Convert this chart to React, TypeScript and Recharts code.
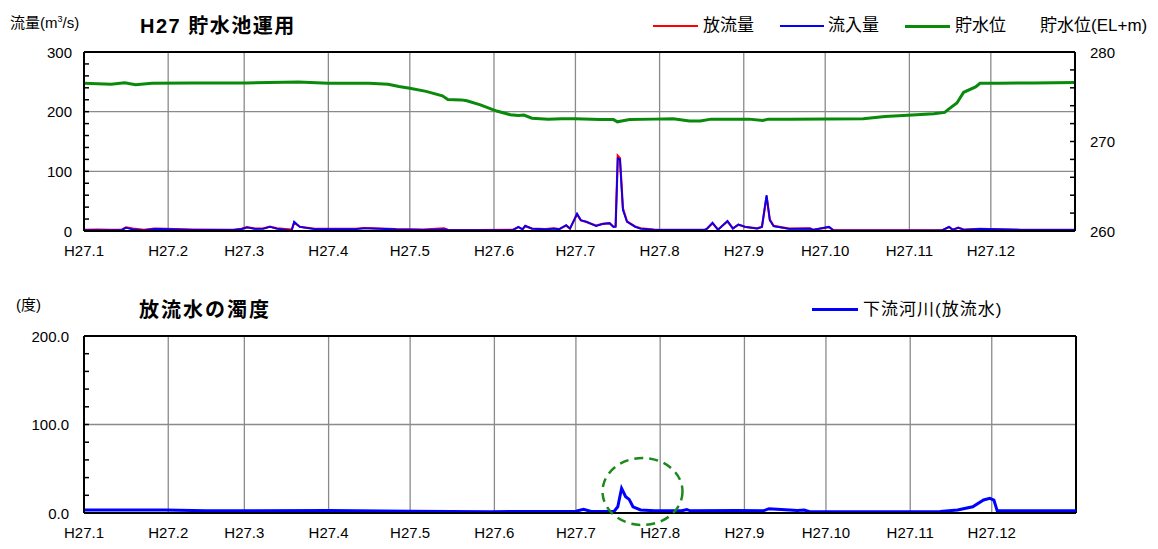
import { LineChart, Line, XAxis, YAxis, CartesianGrid, ReferenceLine, ReferenceDot } from 'recharts';

const FONT = '"Liberation Sans", "Noto Sans CJK JP", sans-serif';

// x axis: day of year (H27 = 2015), month starts
const monthStarts = [0, 31, 59, 90, 120, 151, 181, 212, 243, 273, 304, 334];
const monthLabels = ['H27.1', 'H27.2', 'H27.3', 'H27.4', 'H27.5', 'H27.6', 'H27.7', 'H27.8', 'H27.9', 'H27.10', 'H27.11', 'H27.12'];

// 流量 (m3/s)
const flowDays = [0, 5, 10, 14, 15.5, 18, 22, 26, 30, 40, 55, 58, 60, 63, 66, 68.5, 71, 76.5, 77.4, 79.5, 85, 100, 103, 106, 115, 125, 132.6, 134, 145, 158, 160, 161.5, 162.5, 165, 170, 173, 175, 177.6, 179, 181.6, 183, 185, 188.6, 191, 193.6, 195, 195.8, 196.6, 197.4, 198.5, 200, 203, 205, 210, 225, 228.7, 229.5, 231.5, 233.5, 237, 239, 241, 243.5, 248, 249.7, 251.4, 252.6, 254, 259.7, 267.4, 268.5, 274.4, 276, 300, 316, 318.6, 320, 322, 324, 330, 345, 365];
const inflow = [1.5, 1.5, 1.5, 2, 5.6, 2.5, 1, 3.5, 3, 2, 2, 3, 6, 3.5, 4, 7, 4, 0.5, 15.6, 7, 3, 3, 4.5, 4.5, 2.5, 2, 2.5, 2, 1.5, 1.5, 7, 2.5, 8.9, 4, 2.5, 4, 3, 10, 4, 29, 18, 15.6, 8.4, 12, 13, 7, 7, 122, 120, 35, 15.6, 7, 4, 2, 2, 2, 4, 14, 2, 17, 4, 11, 7, 4, 7, 60, 18, 8, 3.5, 4, 2, 7, 1, 1, 1, 7, 2, 5.6, 2, 3.5, 2, 2];
const outflow = [2, 2.5, 2, 2.5, 6, 4, 2, 4, 3.5, 2.5, 2, 3.5, 6.5, 4, 4, 7.5, 4.5, 2.5, 14, 7, 3.5, 3.5, 5, 4.5, 3, 2.5, 4.5, 2, 1.5, 2, 6.5, 3, 8, 4, 3, 4.5, 3, 9, 4, 28, 18, 15, 9, 12, 13, 7, 8, 126, 122, 38, 16, 7.5, 4.5, 2.5, 2, 2, 4, 13, 2.5, 16, 4.5, 10.5, 7, 4.5, 7, 58, 19, 8.5, 4, 4.5, 2, 6.5, 1.5, 1, 1, 6.5, 2, 5.5, 2.5, 3.5, 2, 2];

// 貯水位 (EL+m)
const levelDays = [0, 10, 15, 19, 25, 40, 60, 79, 90, 100, 105, 112, 116, 120, 126, 132, 134, 139, 141, 146, 152, 157, 160, 162, 165, 171, 176, 181, 190, 195, 196.5, 198, 201, 210, 217, 223, 227, 231, 245, 250, 252, 260, 287, 295, 305, 313, 317, 318.6, 321.5, 324, 328.4, 330, 337, 350, 365];
const level = [276.5, 276.4, 276.55, 276.35, 276.5, 276.55, 276.55, 276.65, 276.5, 276.5, 276.5, 276.4, 276.15, 275.95, 275.6, 275.1, 274.7, 274.65, 274.55, 274.1, 273.4, 273.0, 272.9, 272.95, 272.6, 272.5, 272.55, 272.55, 272.45, 272.45, 272.2, 272.3, 272.45, 272.5, 272.55, 272.3, 272.3, 272.5, 272.5, 272.35, 272.5, 272.5, 272.55, 272.8, 272.95, 273.1, 273.25, 273.65, 274.3, 275.5, 276.1, 276.5, 276.5, 276.55, 276.6];

// 濁度 (度)
const turbDays = [0, 30, 45, 60, 90, 120, 150, 175, 181, 183.8, 186.6, 195, 196.4, 197.8, 199.3, 200.6, 202, 204.8, 210, 220, 221.8, 223, 240, 250, 252, 255, 259.7, 262.4, 265, 267, 290, 315, 321.4, 327, 331, 333.3, 334.8, 336, 345, 365];
const turbidity = [3.4, 3.4, 2.5, 2.5, 2.8, 2, 1.5, 1.8, 2, 4.2, 1.8, 1.8, 7, 27.9, 18.4, 15.4, 7, 3.4, 2.5, 2.5, 4, 2.5, 2.8, 2.5, 4.9, 4.2, 3.4, 2.8, 3.4, 1.5, 1.5, 1.8, 3.4, 7, 14.7, 16.6, 14.7, 2.5, 2.5, 2.5];

const flowTicks = [0, 20, 40, 60, 80, 100, 120, 140, 160, 180, 200, 220, 240, 260, 280, 300];
const levelTicks = [260, 262, 264, 266, 268, 270, 272, 274, 276, 278, 280];
const turbTicks = [0, 20, 40, 60, 80, 100, 120, 140, 160, 180, 200];

const flowData = flowDays.map((d, i) => ({ day: d, out: outflow[i], in: inflow[i] }));
const levelData = levelDays.map((d, i) => ({ day: d, level: level[i] }));
const turbData = turbDays.map((d, i) => ({ day: d, turb: turbidity[i] }));

const GRID = '#8a8a8a';

function XTick(props: any) {
  const { x, y, payload } = props;
  const i = monthStarts.indexOf(payload.value);
  return (
    <text x={x} y={y + 23} textAnchor="middle" fontSize={15} fill="#000" fontFamily={FONT}>
      {monthLabels[i]}
    </text>
  );
}

function makeYTick(side: 'left' | 'right', major: number, gap: number, fmt: (v: number) => string) {
  return (props: any) => {
    const { x, y, payload } = props;
    const v = payload.value;
    const dir = side === 'left' ? 1 : -1;
    const isMajor = Math.abs(v % major) < 1e-6;
    return (
      <g>
        <line x1={x} x2={x + dir * 5} y1={y} y2={y} stroke="#000" strokeWidth={1.5} />
        {isMajor && (
          <text
            x={side === 'left' ? x - gap : x + gap}
            y={y + 5.5}
            textAnchor={side === 'left' ? 'end' : 'start'}
            fontSize={15}
            fill="#000"
            fontFamily={FONT}
          >
            {fmt(v)}
          </text>
        )}
      </g>
    );
  };
}

const FlowTick = makeYTick('left', 100, 12, (v) => String(v));
const LevelTick = makeYTick('right', 10, 15, (v) => String(v));
const TurbTick = makeYTick('left', 100, 15, (v) => v.toFixed(1));

function LegendLine({ left, top, width, color, thick }: { left: number; top: number; width: number; color: string; thick: number }) {
  return <div style={{ position: 'absolute', left, top: top - thick / 2, width, height: thick, background: color }} />;
}

function Label({ left, top, size, bold, spacing, children }: any) {
  return (
    <div
      style={{
        position: 'absolute',
        left,
        top: top - size * 0.7,
        fontSize: size,
        lineHeight: `${size * 1.4}px`,
        fontWeight: bold ? 'bold' : 'normal',
        letterSpacing: spacing || 0,
        whiteSpace: 'nowrap',
        fontFamily: FONT,
        color: '#000',
      }}
    >
      {children}
    </div>
  );
}

function Ellipse(props: any) {
  const { cx, cy } = props;
  return <ellipse cx={cx} cy={cy} rx={40} ry={33.5} fill="none" stroke="#1a8a1a" strokeWidth={2.5} strokeDasharray="9 6" />;
}

export default function App() {
  return (
    <div style={{ position: 'absolute', left: 0, top: 0, width: 1158, height: 549, background: '#fff', fontFamily: FONT }}>
      {/* top chart */}
      <div style={{ position: 'absolute', left: 0, top: 0 }}>
        <LineChart width={1158} height={262} margin={{ top: 52, left: 24, right: 23, bottom: 6 }}>
          <CartesianGrid horizontal={false} stroke={GRID} strokeWidth={1.3} />
          <XAxis
            dataKey="day"
            type="number"
            domain={[0, 365]}
            ticks={monthStarts}
            allowDataOverflow
            height={25}
            tickLine={false}
            tickSize={0}
            tick={<XTick />}
            axisLine={{ stroke: '#000', strokeWidth: 2 }}
          />
          <YAxis
            yAxisId="left"
            domain={[0, 300]}
            ticks={flowTicks}
            width={60}
            tickLine={false}
            tickSize={0}
            tickMargin={0}
            tick={<FlowTick />}
            axisLine={{ stroke: '#000', strokeWidth: 2 }}
            interval={0}
          />
          <YAxis
            yAxisId="right"
            orientation="right"
            domain={[260, 280]}
            ticks={levelTicks}
            width={60}
            tickLine={false}
            tickSize={0}
            tickMargin={0}
            tick={<LevelTick />}
            axisLine={{ stroke: '#000', strokeWidth: 2 }}
            interval={0}
          />
          <ReferenceLine yAxisId="left" y={100} stroke={GRID} strokeWidth={1.3} />
          <ReferenceLine yAxisId="left" y={200} stroke={GRID} strokeWidth={1.3} />
          <ReferenceLine yAxisId="left" y={300} stroke="#000" strokeWidth={2} />
          <Line yAxisId="right" data={levelData} dataKey="level" stroke="#0a8a0a" strokeWidth={3} dot={false} isAnimationActive={false} />
          <Line yAxisId="left" data={flowData} dataKey="out" stroke="#ff0000" strokeWidth={2.2} dot={false} isAnimationActive={false} />
          <Line yAxisId="left" data={flowData} dataKey="in" stroke="#0000ff" strokeWidth={1.8} dot={false} isAnimationActive={false} />
        </LineChart>
      </div>

      {/* bottom chart */}
      <div style={{ position: 'absolute', left: 0, top: 280 }}>
        <LineChart width={1158} height={269} margin={{ top: 56, left: 24, right: 82, bottom: 11 }}>
          <CartesianGrid horizontal={false} stroke={GRID} strokeWidth={1.3} />
          <XAxis
            dataKey="day"
            type="number"
            domain={[0, 365]}
            ticks={monthStarts}
            allowDataOverflow
            height={25}
            tickLine={false}
            tickSize={0}
            tick={<XTick />}
            axisLine={{ stroke: '#000', strokeWidth: 2 }}
          />
          <YAxis
            domain={[0, 200]}
            ticks={turbTicks}
            width={60}
            tickLine={false}
            tickSize={0}
            tickMargin={0}
            tick={<TurbTick />}
            axisLine={{ stroke: '#000', strokeWidth: 2 }}
            interval={0}
          />
          <ReferenceLine y={100} stroke={GRID} strokeWidth={1.3} />
          <ReferenceLine y={200} stroke="#000" strokeWidth={2} />
          <ReferenceLine x={365} stroke="#000" strokeWidth={2} />
          <Line data={turbData} dataKey="turb" stroke="#0000ff" strokeWidth={3} dot={false} isAnimationActive={false} />
          <ReferenceDot x={205.5} y={24.3} ifOverflow="visible" shape={<Ellipse />} />
        </LineChart>
      </div>

      {/* top texts */}
      <Label left={10} top={19} size={15}>
        流量(m<sup style={{ fontSize: 9 }}>3</sup>/s)
      </Label>
      <Label left={140} top={26} size={20} bold spacing={1.5}>
        H27 貯水池運用
      </Label>
      <LegendLine left={653} top={26} width={45} color="#ff0000" thick={2} />
      <Label left={703} top={26} size={17}>放流量</Label>
      <LegendLine left={780} top={26} width={44} color="#0000ff" thick={2} />
      <Label left={828} top={26} size={17}>流入量</Label>
      <LegendLine left={905} top={26} width={45} color="#0a8a0a" thick={3} />
      <Label left={955} top={26} size={17}>貯水位</Label>
      <Label left={1040} top={26} size={17}>貯水位(EL+m)</Label>

      {/* bottom texts */}
      <Label left={16} top={304} size={15}>(度)</Label>
      <Label left={139} top={310} size={20} bold spacing={2}>
        放流水の濁度
      </Label>
      <LegendLine left={812} top={309} width={46} color="#0000ff" thick={3} />
      <Label left={863} top={310} size={17} spacing={1}>下流河川(放流水)</Label>
    </div>
  );
}
